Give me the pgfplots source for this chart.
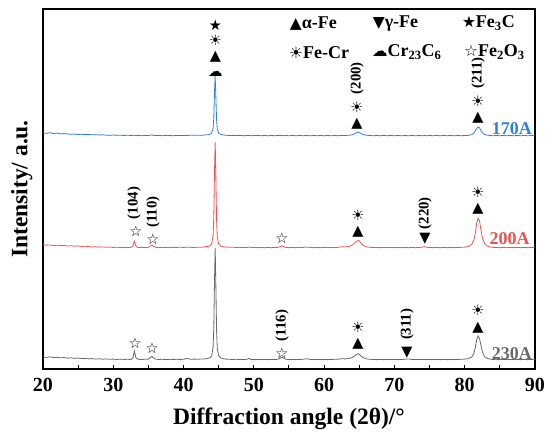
\documentclass[border=0pt]{standalone}
\usepackage{fontspec}
\setmainfont{Liberation Serif}
\newfontfamily\sym{DejaVu Sans}
\usepackage{pgfplots}
\usepackage{pgfplotstable}
\pgfplotsset{compat=1.18}
\definecolor{cblue}{RGB}{47,127,224}
\definecolor{cred}{RGB}{242,80,80}
\definecolor{cgray}{RGB}{105,105,105}
\pgfplotstableread{
x g r b
20.0 0.85 0.95 0.90
20.5 0.70 0.80 0.75
21.0 0.90 0.85 0.95
21.5 0.65 0.70 0.70
22.0 0.75 0.80 0.85
22.5 0.60 0.65 0.60
23.0 0.70 0.75 0.70
23.5 0.50 0.55 0.60
24.0 0.60 0.65 0.50
24.5 0.45 0.50 0.55
25.0 0.55 0.60 0.45
25.5 0.40 0.45 0.50
26.0 0.45 0.50 0.40
26.5 0.30 0.40 0.45
27.0 0.40 0.30 0.35
27.5 0.25 0.35 0.40
28.0 0.35 0.25 0.30
28.5 0.20 0.30 0.35
29.0 0.30 0.20 0.25
29.5 0.20 0.30 0.20
30.0 0.25 0.15 0.30
30.5 0.15 0.25 0.20
31.0 0.25 0.15 0.25
31.5 0.15 0.20 0.15
32.0 0.20 0.10 0.25
32.5 0.15 0.20 0.15
32.8 0.60 0.55 0.20
33.0 2.50 1.90 0.25
33.2 0.70 0.60 0.15
33.5 0.20 0.15 0.20
34.0 0.15 0.20 0.10
34.5 0.20 0.10 0.20
35.0 0.25 0.20 0.15
35.3 0.70 0.60 0.25
35.5 1.00 0.85 0.35
35.7 0.60 0.50 0.20
36.0 0.25 0.20 0.15
36.5 0.15 0.10 0.20
37.0 0.20 0.20 0.10
37.5 0.10 0.15 0.20
38.0 0.20 0.10 0.15
38.5 0.15 0.20 0.10
39.0 0.20 0.15 0.20
39.5 0.15 0.25 0.15
40.0 0.20 0.15 0.20
40.5 0.45 0.25 0.15
41.0 0.20 0.20 0.25
41.5 0.25 0.15 0.20
42.0 0.20 0.25 0.25
42.5 0.30 0.20 0.20
43.0 0.30 0.35 0.30
43.5 0.45 0.45 0.40
43.8 0.70 0.70 0.55
44.0 1.20 1.20 0.90
44.2 3.50 3.40 2.20
44.3 9.00 8.50 5.00
44.4 22.0 21.0 12.0
44.5 31.1 29.5 16.7
44.6 20.0 19.0 10.5
44.7 8.00 7.50 4.50
44.8 3.20 3.00 1.90
45.0 1.20 1.10 0.80
45.3 0.60 0.55 0.45
45.6 0.40 0.35 0.30
46.0 0.25 0.30 0.25
46.5 0.20 0.20 0.15
47.0 0.15 0.25 0.20
47.5 0.20 0.15 0.15
48.0 0.15 0.20 0.20
48.5 0.10 0.15 0.10
49.0 0.20 0.10 0.15
49.3 0.45 0.30 0.20
49.6 0.15 0.15 0.10
50.0 0.10 0.20 0.15
50.5 0.15 0.10 0.20
51.0 0.10 0.15 0.10
51.5 0.15 0.10 0.15
52.0 0.10 0.15 0.10
52.5 0.15 0.10 0.15
53.0 0.10 0.15 0.10
53.5 0.25 0.20 0.15
53.8 0.55 0.45 0.15
54.0 0.75 0.60 0.20
54.3 0.45 0.35 0.10
54.6 0.20 0.15 0.15
55.0 0.10 0.10 0.10
55.5 0.15 0.15 0.15
56.0 0.10 0.10 0.10
56.5 0.15 0.20 0.15
57.0 0.20 0.15 0.10
57.5 0.35 0.30 0.15
58.0 0.15 0.15 0.10
58.5 0.10 0.10 0.15
59.0 0.15 0.15 0.10
59.5 0.10 0.10 0.15
60.0 0.15 0.15 0.10
60.5 0.10 0.20 0.15
61.0 0.15 0.10 0.10
61.5 0.20 0.15 0.15
62.0 0.25 0.20 0.10
62.5 0.35 0.35 0.20
63.0 0.30 0.30 0.15
63.5 0.40 0.45 0.25
64.0 0.70 0.80 0.35
64.3 1.10 1.40 0.60
64.6 1.50 1.70 0.95
64.8 1.70 2.10 1.10
65.0 1.60 2.00 1.05
65.2 1.20 1.50 0.80
65.5 0.70 0.80 0.45
66.0 0.30 0.35 0.25
66.5 0.20 0.20 0.15
67.0 0.15 0.15 0.10
67.5 0.10 0.15 0.15
68.0 0.15 0.10 0.10
68.5 0.10 0.15 0.15
69.0 0.15 0.10 0.10
69.5 0.10 0.15 0.15
70.0 0.15 0.10 0.10
70.5 0.10 0.15 0.15
71.0 0.15 0.10 0.10
71.5 0.20 0.15 0.15
72.0 0.30 0.10 0.10
72.5 0.15 0.15 0.15
73.0 0.10 0.10 0.10
73.5 0.15 0.15 0.15
74.0 0.10 0.25 0.10
74.3 0.15 0.40 0.15
74.6 0.10 0.20 0.10
75.0 0.15 0.15 0.15
75.5 0.10 0.10 0.10
76.0 0.15 0.15 0.15
76.5 0.10 0.10 0.10
77.0 0.15 0.15 0.15
77.5 0.10 0.10 0.10
78.0 0.15 0.15 0.15
78.5 0.10 0.10 0.10
79.0 0.15 0.15 0.15
79.5 0.20 0.20 0.10
80.0 0.25 0.25 0.15
80.5 0.35 0.40 0.20
81.0 0.80 1.00 0.40
81.3 1.80 2.20 0.80
81.5 3.40 4.00 1.40
81.7 5.60 6.90 2.10
81.9 6.70 8.30 2.50
82.1 6.00 7.60 2.30
82.3 4.20 5.20 1.60
82.5 2.40 3.00 1.00
82.8 1.00 1.30 0.50
83.2 0.45 0.55 0.25
83.6 0.25 0.30 0.15
84.0 0.15 0.20 0.10
84.5 0.20 0.15 0.15
85.0 0.10 0.10 0.10
85.5 0.15 0.15 0.15
86.0 0.10 0.10 0.10
86.5 0.15 0.15 0.15
87.0 0.10 0.10 0.10
87.5 0.15 0.15 0.15
88.0 0.10 0.10 0.10
88.5 0.15 0.15 0.15
89.0 0.10 0.10 0.10
89.5 0.15 0.15 0.15
90.0 0.10 0.10 0.10
}\xrd
\begin{document}
\begin{tikzpicture}
\useasboundingbox (-43pt,-67pt) rectangle (507pt,369pt);
\begin{axis}[
  at={(0,0)}, anchor=south west,
  scale only axis, width=492pt, height=360pt,
  xmin=20, xmax=90, ymin=0, ymax=100,
  xtick={20,30,...,90}, minor xtick={25,35,...,85},
  ytick=\empty,
  tick align=inside, xtick pos=bottom,
  major tick length=4pt, minor tick length=4pt,
  axis line style={line width=1.2pt},
  every tick/.style={black, line width=1pt},
  /pgf/number format/assume math mode=true,
  xticklabel style={font=\fontsize{20}{20}\selectfont\bfseries},
  xticklabel shift=6pt,
  xlabel={\bfseries Diffraction angle (2θ)/°},
  ylabel={\bfseries Intensity/ a.u.},
  xlabel shift=9pt,
  ylabel shift=7pt,
  label style={font=\fontsize{23.5}{24}\selectfont},
  clip=false,
]
\addplot[cgray, line width=0.8pt] table[x=x, y expr=\thisrow{g}+2.5] {\xrd};
\addplot[cred, line width=0.8pt] table[x=x, y expr=\thisrow{r}+33.6] {\xrd};
\addplot[cblue, line width=0.8pt] table[x=x, y expr=\thisrow{b}+64.7] {\xrd};

\tikzset{
  sy/.style={font=\sym\fontsize{14.5}{14.5}\selectfont, inner sep=0pt},
  hk/.style={font=\fontsize{14.8}{15}\selectfont\bfseries, rotate=90, inner sep=0pt},
  lg/.style={font=\fontsize{18}{18}\selectfont\bfseries, anchor=west, inner sep=0pt},
  sl/.style={font=\fontsize{18}{18}\selectfont\bfseries, anchor=east, inner sep=0pt},
}
% legend
\node[lg] at (axis cs:55.1,96.0) {{\sym\fontsize{15.5}{15.5}\selectfont ▲}α-Fe};
\node[lg] at (axis cs:66.9,96.0) {{\sym\fontsize{15.5}{15.5}\selectfont ▼}γ-Fe};
\node[lg] at (axis cs:79.6,96.0) {{\sym\fontsize{15.5}{15.5}\selectfont ★}Fe\textsubscript{3}C};
\node[lg] at (axis cs:55.0,88.0) {{\sym\fontsize{15.5}{15.5}\selectfont ☀}Fe-Cr};
\node[lg] at (axis cs:66.8,88.0) {{\sym\fontsize{15.5}{15.5}\selectfont ☁}Cr\textsubscript{23}C\textsubscript{6}};
\node[lg] at (axis cs:79.9,88.0) {{\sym\fontsize{15.5}{15.5}\selectfont ☆}Fe\textsubscript{2}O\textsubscript{3}};
% 170A
\node[sy] at (axis cs:44.52,95.6) {★};
\node[sy] at (axis cs:44.52,91.2) {☀};
\node[sy] at (axis cs:44.52,86.8) {▲};
\node[sy] at (axis cs:44.52,82.0) {☁};
\node[hk] at (axis cs:64.67,80.8) {(200)};
\node[sy] at (axis cs:64.67,72.7) {☀};
\node[sy] at (axis cs:64.67,68.1) {▲};
\node[hk] at (axis cs:81.89,82.3) {(211)};
\node[sy] at (axis cs:81.89,74.3) {☀};
\node[sy] at (axis cs:81.89,69.7) {▲};
\node[sl, text=cblue] at (axis cs:89.57,66.9) {170A};
% 200A
\node[hk] at (axis cs:32.95,46.1) {(104)};
\node[sy] at (axis cs:33.23,38.3) {☆};
\node[hk] at (axis cs:35.65,43.6) {(110)};
\node[sy] at (axis cs:35.65,36.1) {☆};
\node[sy] at (axis cs:54.0,36.4) {☆};
\node[sy] at (axis cs:64.81,42.6) {☀};
\node[sy] at (axis cs:64.81,38.0) {▲};
\node[hk] at (axis cs:74.35,43.3) {(220)};
\node[sy] at (axis cs:74.35,36.1) {▼};
\node[sy] at (axis cs:81.89,49.2) {☀};
\node[sy] at (axis cs:81.89,44.6) {▲};
\node[sl, text=cred] at (axis cs:89.28,36.1) {200A};
% 230A
\node[sy] at (axis cs:33.09,7.2) {☆};
\node[sy] at (axis cs:35.51,5.8) {☆};
\node[hk] at (axis cs:54.0,12.1) {(116)};
\node[sy] at (axis cs:54.0,4.4) {☆};
\node[sy] at (axis cs:64.81,11.6) {☀};
\node[sy] at (axis cs:64.81,7.0) {▲};
\node[hk] at (axis cs:71.79,12.4) {(311)};
\node[sy] at (axis cs:71.79,4.4) {▼};
\node[sy] at (axis cs:81.89,16.2) {☀};
\node[sy] at (axis cs:81.89,11.6) {▲};
\node[sl, text=cgray] at (axis cs:89.57,4.4) {230A};
\end{axis}
\end{tikzpicture}
\end{document}
